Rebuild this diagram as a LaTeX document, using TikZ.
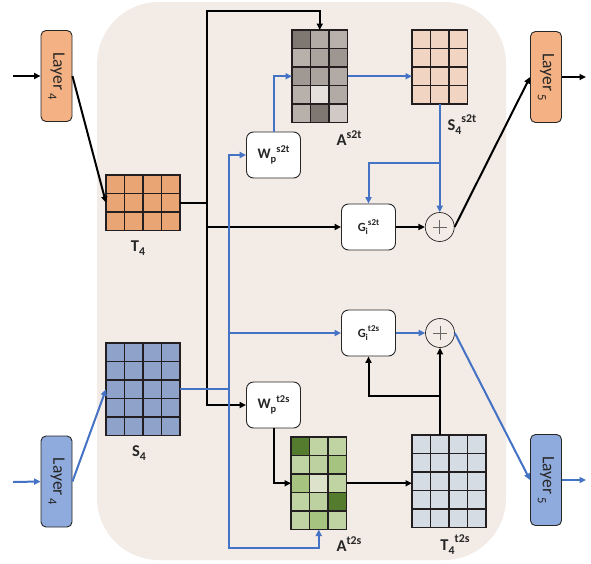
\documentclass[tikz,border=0pt]{standalone}
\usepackage{fontspec}
\setmainfont{Carlito}
\usetikzlibrary{arrows.meta,calc}
\definecolor{bgc}{HTML}{F2EBE6}
\definecolor{layo}{HTML}{F4B183}
\definecolor{layb}{HTML}{8FAADC}
\definecolor{cT}{HTML}{E9A674}
\definecolor{cS}{HTML}{8EA2CA}
\definecolor{cSs}{HTML}{F1D5C2}
\definecolor{cTt}{HTML}{D6DCE4}
\definecolor{gl}{HTML}{231F20}
\definecolor{bl}{HTML}{4472C4}
\definecolor{dk}{HTML}{262626}
% gray shades
\definecolor{a1}{HTML}{7F7772}
\definecolor{a2}{HTML}{B2AAA5}
\definecolor{a3}{HTML}{B8B0AB}
\definecolor{a4}{HTML}{ABA39E}
\definecolor{a5}{HTML}{9E9691}
\definecolor{a6}{HTML}{A09893}
\definecolor{a7}{HTML}{E6E0DC}
\definecolor{a8}{HTML}{D0C9C5}
% green shades
\definecolor{g1}{HTML}{557B2F}
\definecolor{g2}{HTML}{C0D3A3}
\definecolor{g3}{HTML}{BDD1A0}
\definecolor{g4}{HTML}{A6C47F}
\definecolor{g5}{HTML}{DCE3CA}
\newcommand{\sbs}[1]{\raisebox{-0.28em}{\scalebox{0.72}{#1}}}
\newcommand{\sps}[1]{\raisebox{0.45em}{\scalebox{0.72}{#1}}}
\newcommand{\ugrid}[6]{%
  \node[inner sep=0pt, outer sep=0pt, minimum width=#4*18.5pt, minimum height=#5*18.5pt, anchor=north west] (#1) at (#2,#3) {};
  \foreach \i in {1,...,#4} \foreach \j in {1,...,#5}
    \filldraw[fill=#6, cellline] ({#2+(\i-1)*18.5},{#3+(\j-1)*18.5}) rectangle ++(18.5,18.5);
}
\newcommand{\cgrid}[5]{% name x y rows colorlist (3 cols)
  \node[inner sep=0pt, outer sep=0pt, minimum width=3*18.5pt, minimum height=#4*18.5pt, anchor=north west] (#1) at (#2,#3) {};
  \foreach \cc [count=\k from 0] in {#5} {
    \pgfmathtruncatemacro{\ci}{mod(\k,3)}
    \pgfmathtruncatemacro{\cj}{int(\k/3)}
    \filldraw[fill=\cc, cellline] ({#2+\ci*18.5},{#3+\cj*18.5}) rectangle ++(18.5,18.5);
  }
}
\tikzset{
  cellline/.style={draw=gl, line width=1.2pt},
  layerbox/.style={draw=dk, line width=0.9pt, rounded corners=5pt, minimum width=31pt, minimum height=91pt, inner sep=0pt},
  procbox/.style={draw=dk, line width=0.9pt, rounded corners=7pt, fill=white, minimum width=54pt, minimum height=46pt, inner sep=0pt},
  pluscirc/.style={circle, draw=dk, line width=0.7pt, minimum size=29pt, inner sep=0pt},
  gridlabel/.style={font=\fontsize{16.5}{18}\selectfont\bfseries, text=dk, inner sep=0pt},
  arr/.style={-{Triangle[length=6.5pt,width=6pt]}, line width=2pt, draw=black},
  barr/.style={-{Triangle[length=6.5pt,width=6pt]}, line width=2pt, draw=bl},
}
\begin{document}
\begin{tikzpicture}[x=1pt,y=-1pt]
\useasboundingbox (0,0) rectangle (591,563);
\fill[bgc, rounded corners=62pt] (97,2) rectangle (506,560);

% layer boxes
\node[layerbox, fill=layo] (L4o) at (56.5,76) {\rotatebox{-90}{\fontsize{17.5}{17}\selectfont\color{dk}Layer\,\sbs{4}}};
\node[layerbox, fill=layo] (L5o) at (546,77) {\rotatebox{-90}{\fontsize{17.5}{17}\selectfont\color{dk}Layer\,\sbs{5}}};
\node[layerbox, fill=layb] (L4b) at (56.5,481.5) {\rotatebox{-90}{\fontsize{17.5}{17}\selectfont\color{dk}Layer\,\sbs{4}}};
\node[layerbox, fill=layb] (L5b) at (546,480) {\rotatebox{-90}{\fontsize{17.5}{17}\selectfont\color{dk}Layer\,\sbs{5}}};

% grids
\ugrid{T4}{106}{175}{4}{3}{cT}
\ugrid{S4}{106}{343}{4}{5}{cS}
\ugrid{S4s2t}{412}{30}{3}{4}{cSs}
\ugrid{T4t2s}{412}{435}{4}{5}{cTt}
\cgrid{As2t}{292}{30}{5}{a1,a2,a3,a3,a4,a5,a6,a4,a2,a3,a7,a2,a3,a1,a8}
\cgrid{At2s}{291}{437}{5}{g1,g2,g2,g2,g3,g4,g4,g5,g2,g2,g3,g1,g2,g4,g2}

% grid labels
\node[gridlabel] (lT4) at (138,248) {T\sbs{4}};
\node[gridlabel] (lS4) at (139,453) {S\sbs{4}};
\node[gridlabel] (lAs) at (349,138) {A\sps{s2t}};
\node[gridlabel] (lSs) at (462,125) {S\sbs{4}\sps{s2t}};
\node[gridlabel] (lAt) at (349,544) {A\sps{t2s}};
\node[gridlabel] (lTt) at (455,545) {T\sbs{4}\sps{t2s}};

% process boxes
\node[procbox] (Ws2t) at (273.5,155) {\fontsize{14.5}{14}\selectfont\bfseries\color{dk}W\sbs{p}\sps{s2t}};
\node[procbox] (Wt2s) at (273.5,405) {\fontsize{14.5}{14}\selectfont\bfseries\color{dk}W\sbs{p}\sps{t2s}};
\node[procbox] (Gs2t) at (368.5,227) {\fontsize{12.5}{12}\selectfont\bfseries\color{dk}G\sbs{i}\sps{s2t}};
\node[procbox] (Gt2s) at (368.5,333) {\fontsize{12.5}{12}\selectfont\bfseries\color{dk}G\sbs{i}\sps{t2s}};

% plus circles
\node[pluscirc] (p1) at (439.75,227) {};
\node[pluscirc] (p2) at (440,333) {};
\foreach \p in {p1,p2} {
  \draw[gray!80!black, line width=0.7pt] ($(\p.center)+(-7,0)$) -- ($(\p.center)+(7,0)$);
  \draw[gray!80!black, line width=0.7pt] ($(\p.center)+(0,-7)$) -- ($(\p.center)+(0,7)$);
}

% free-end coordinates
\coordinate (in1) at (13,76);
\coordinate (in2) at (13,482);
\coordinate (out1) at (586,77);
\coordinate (out2) at (586,480);
\coordinate (kt) at (207,11);
\coordinate (kg) at (207,227);
\coordinate (kw) at (207,405);
\coordinate (bw) at (229,155);
\coordinate (bg) at (229,333);
\coordinate (bb) at (229,548);
\coordinate (js) at (439.75,163);
\coordinate (jt) at (440,396);

% black connectors
\draw[arr] (in1) -- (L4o.west);
\draw[arr] (L4o.east) -- (T4.west);
\draw[arr] (T4.east) -| (kt) -| (As2t.north);
\draw[arr] (T4.east) -| (kg) -- (Gs2t.west);
\draw[arr] (T4.east) -| (kw) -- (Wt2s.west);
\draw[arr] (Gs2t.east) -- (p1.west);
\draw[arr] (p1.east) -- (L5o.west);
\draw[arr] (L5o.east) -- (out1);
\draw[arr] (Wt2s.south) |- (At2s.west);
\draw[arr] (At2s.east) -- (At2s.east -| T4t2s.west);
\draw[arr] (T4t2s.north -| p2.south) -- (p2.south);
\draw[arr] (jt) -| (Gt2s.south);

% blue connectors
\draw[barr] (in2) -- (L4b.west);
\draw[barr] (L4b.east) -- (S4.west);
\draw[barr] (S4.east) -| (bw) -- (Ws2t.west);
\draw[barr] (S4.east) -| (bg) -- (Gt2s.west);
\draw[barr] (S4.east) -| (bb) -| (At2s.south);
\draw[barr] (Ws2t.north) |- (As2t.west);
\draw[barr] (As2t.east) -- (As2t.east -| S4s2t.west);
\draw[barr] (S4s2t.south) -- (p1.north);
\draw[barr] (js) -| (Gs2t.north);
\draw[barr] (Gt2s.east) -- (p2.west);
\draw[barr] (p2.east) -- (L5b.west);
\draw[barr] (L5b.east) -- (out2);
\end{tikzpicture}
\end{document}
